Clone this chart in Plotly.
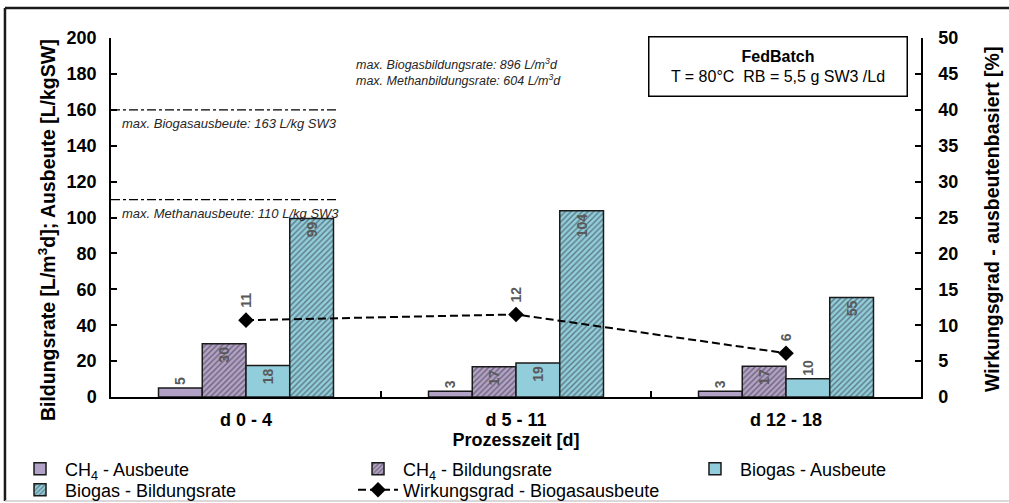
import plotly.graph_objects as go

categories = ["d 0 - 4", "d 5 - 11", "d 12 - 18"]
ch4_ausbeute = [5.0, 3.2, 3.2]
ch4_bildungsrate = [29.6, 16.8, 17.2]
biogas_ausbeute = [17.6, 18.9, 10.2]
biogas_bildungsrate = [99.4, 103.8, 55.4]
wirkungsgrad = [10.7, 11.5, 6.1]

ref_values = [160, 110]
ref_labels = ["max. Biogasausbeute: 163 L/kg SW3", "max. Methanausbeute: 110 L/kg SW3"]
rate_labels = ["max. Biogasbildungsrate: 896 L/m<sup>3</sup>d", "max. Methanbildungsrate: 604 L/m<sup>3</sup>d"]

FONT = "Liberation Sans, Arial, sans-serif"
LAV = "#B3A2C7"
BLUE = "#92CDDC"
LABEL_GRAY = "#595959"

fig = go.Figure()

def bar(name, vals, color, hatch, positions, legend):
    marker = dict(color=color, line=dict(color="#1a1a1a", width=1.5))
    if hatch:
        marker["pattern"] = dict(shape="/", fgcolor="#262626", bgcolor=color, size=4, solidity=0.35)
    fig.add_trace(go.Bar(
        name=name, x=categories, y=vals, marker=marker, legend=legend,
        text=[f"{v:.0f}" for v in vals], textposition=positions, textangle=-90,
        insidetextanchor="end", cliponaxis=False,
        textfont=dict(family=FONT, size=14, color=LABEL_GRAY, weight="bold"),
    ))

bar("CH<sub>4</sub> - Ausbeute", ch4_ausbeute, LAV, False, ["outside"] * 3, "legend")
bar("CH<sub>4</sub> - Bildungsrate", ch4_bildungsrate, LAV, True, ["inside"] * 3, "legend2")
bar("Biogas - Ausbeute", biogas_ausbeute, BLUE, False, ["inside", "inside", "outside"], "legend3")
bar("Biogas - Bildungsrate", biogas_bildungsrate, BLUE, True, ["inside"] * 3, "legend4")

fig.add_trace(go.Scatter(
    name="Wirkungsgrad - Biogasausbeute", x=categories, y=wirkungsgrad, yaxis="y2", legend="legend5",
    mode="lines+markers", line=dict(color="black", width=2, dash="8px,4px"),
    marker=dict(symbol="diamond", size=12, color="black"),
))

annotations = []
for c, v in zip(categories, wirkungsgrad):
    annotations.append(dict(x=c, y=v, xref="x", yref="y2", text=f"{v:.0f}", textangle=-90,
                            showarrow=False, yanchor="bottom", yshift=10,
                            font=dict(family=FONT, size=14, color=LABEL_GRAY, weight="bold")))

shapes = []
for v, lab in zip(ref_values, ref_labels):
    shapes.append(dict(type="line", xref="x domain", yref="y", x0=0, x1=0.28, y0=v, y1=v,
                       line=dict(color="black", width=1.2, dash="dashdot")))
    annotations.append(dict(x=0.011, y=v, xref="x domain", yref="y", text=lab, showarrow=False,
                            xanchor="left", yanchor="top", yshift=-4,
                            font=dict(family=FONT, size=13, color="#262626", style="italic")))

for i, lab in enumerate(rate_labels):
    annotations.append(dict(x=0.30, y=0.928 - i * 0.045, xref="paper", yref="paper", text=lab,
                            showarrow=False, xanchor="left", yanchor="middle",
                            font=dict(family=FONT, size=12.5, color="#262626", style="italic")))

annotations.append(dict(x=0.8235, y=0.9206, xref="paper", yref="paper",
                        text="<b>FedBatch</b><br>T = 80°C\u00a0\u00a0RB = 5,5 g SW3 /Ld",
                        showarrow=False, xanchor="center", yanchor="middle",
                        width=255, height=56, bordercolor="black", borderwidth=1.5,
                        bgcolor="white", align="center",
                        font=dict(family=FONT, size=16, color="black")))

title_font = dict(family=FONT, size=19.5, color="black", weight="bold")
annotations.append(dict(x=-0.079, y=0.465, xref="paper", yref="paper", textangle=-90,
                        text="Bildungsrate [L/m<sup>3</sup>d]; Ausbeute [L/kgSW]", showarrow=False,
                        xanchor="center", yanchor="middle", font=title_font))
annotations.append(dict(x=1.0877, y=0.493, xref="paper", yref="paper", textangle=-90,
                        text="Wirkungsgrad - ausbeutenbasiert [%]", showarrow=False,
                        xanchor="center", yanchor="middle", font=title_font))

# outer frame
shapes.append(dict(type="line", xref="paper", yref="paper", x0=-0.1309, x1=1.12, y0=1.0836, y1=1.0836,
                   line=dict(color="#1a1a1a", width=2.5)))
shapes.append(dict(type="line", xref="paper", yref="paper", x0=-0.1309, x1=-0.1309, y0=1.0836, y1=-0.29,
                   line=dict(color="#1a1a1a", width=2.5)))
shapes.append(dict(type="line", xref="paper", yref="paper", x0=-0.1309, x1=1.12, y0=-0.2897, y1=-0.2897,
                   line=dict(color="#cccccc", width=1.5)))

axis_font = dict(family=FONT, size=18, color="black", weight="bold")
legend_common = dict(orientation="h", xanchor="left", yanchor="middle", itemwidth=40,
                     font=dict(family=FONT, size=18, color="black"),
                     bgcolor="rgba(0,0,0,0)")

col_x = [-0.1185, 0.2988, 0.7148]
row_y = [-0.2006, -0.259]

fig.update_layout(
    width=1009, height=503,
    margin=dict(l=111, r=88, t=38, b=106, autoexpand=False),
    paper_bgcolor="white", plot_bgcolor="white",
    barmode="group", bargap=0.352, bargroupgap=0,
    font=dict(family=FONT, color="black"),
    xaxis=dict(type="category", tickson="boundaries", ticks="inside", ticklen=6, tickwidth=1.5,
               tickcolor="black", showline=True, linecolor="black", linewidth=1.5,
               showgrid=False, tickfont=axis_font, ticklabelstandoff=6,
               title=dict(text="Prozesszeit [d]", font=axis_font, standoff=0)),
    yaxis=dict(range=[0, 200], dtick=20, ticks="inside", ticklen=6, tickwidth=1.5, tickcolor="black",
               showline=True, linecolor="black", linewidth=1.5, showgrid=False, zeroline=False,
               tickfont=axis_font, ticklabelstandoff=9),
    yaxis2=dict(range=[0, 50], dtick=5, overlaying="y", side="right", ticks="inside", ticklen=6,
                tickwidth=1.5, tickcolor="black", showline=True, linecolor="black", linewidth=1.5,
                showgrid=False, zeroline=False, tickfont=axis_font, ticklabelstandoff=12),
    legend=dict(x=col_x[0], y=row_y[0], **legend_common),
    legend2=dict(x=col_x[1], y=row_y[0], **legend_common),
    legend3=dict(x=col_x[2], y=row_y[0], **legend_common),
    legend4=dict(x=col_x[0], y=row_y[1], **legend_common),
    legend5=dict(x=col_x[1], y=row_y[1], **legend_common),
    showlegend=True,
    annotations=annotations, shapes=shapes,
)

fig.write_html("out.html")
